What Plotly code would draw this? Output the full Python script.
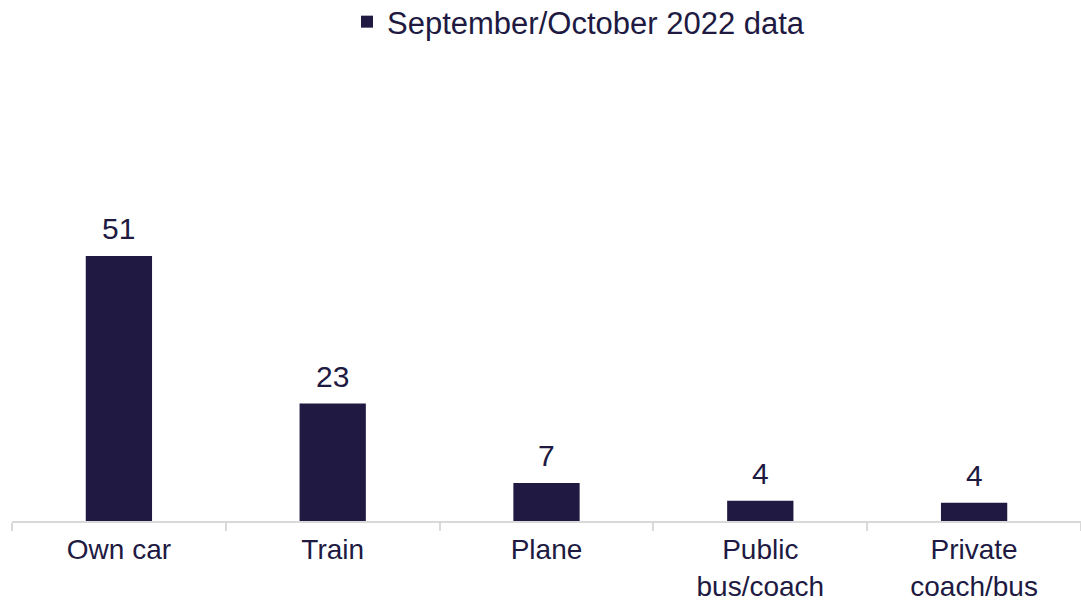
import plotly.graph_objects as go

categories = ["Own car", "Train", "Plane", "Public<br>bus/coach", "Private<br>coach/bus"]
values = [51, 22.6, 7.3, 3.9, 3.5]
labels = ["51", "23", "7", "4", "4"]
series_name = "September/October 2022 data"

BAR = "#201A42"
FONT = "Liberation Sans, Arial, sans-serif"

fig = go.Figure()
fig.add_trace(go.Bar(
    x=categories, y=values, name=series_name,
    marker=dict(color=BAR, line=dict(width=0)),
    width=0.31, hoverinfo="skip",
))
for c, v, t in zip(categories, values, labels):
    fig.add_annotation(x=c, y=v, text=t, showarrow=False, yanchor="bottom",
                       yshift=9, font=dict(family=FONT, size=30, color=BAR))

fig.update_layout(
    width=1081, height=603,
    margin=dict(l=12, r=0, t=60, b=82),
    paper_bgcolor="white", plot_bgcolor="white",
    font=dict(family=FONT, size=30, color=BAR),
    showlegend=True,
    legend=dict(orientation="h", x=0.3134, xanchor="left", y=0.9635, yanchor="middle",
                yref="container", font=dict(size=31, color=BAR), bgcolor="rgba(0,0,0,0)"),
)
fig.update_xaxes(
    automargin=False,
    showline=True, linecolor="#D9D9D9", linewidth=1.5,
    ticks="outside", tickson="boundaries", ticklen=8, tickcolor="#D9D9D9", tickwidth=1.5,
    ticklabelstandoff=3,
    tickfont=dict(family=FONT, size=28, color=BAR),
    showgrid=False,
)
fig.update_yaxes(automargin=False, range=[0, 88.7], visible=False, showgrid=False, zeroline=False)

fig.write_html("out.html", config={"displayModeBar": False},
               post_script="document.body.style.margin='0';")
